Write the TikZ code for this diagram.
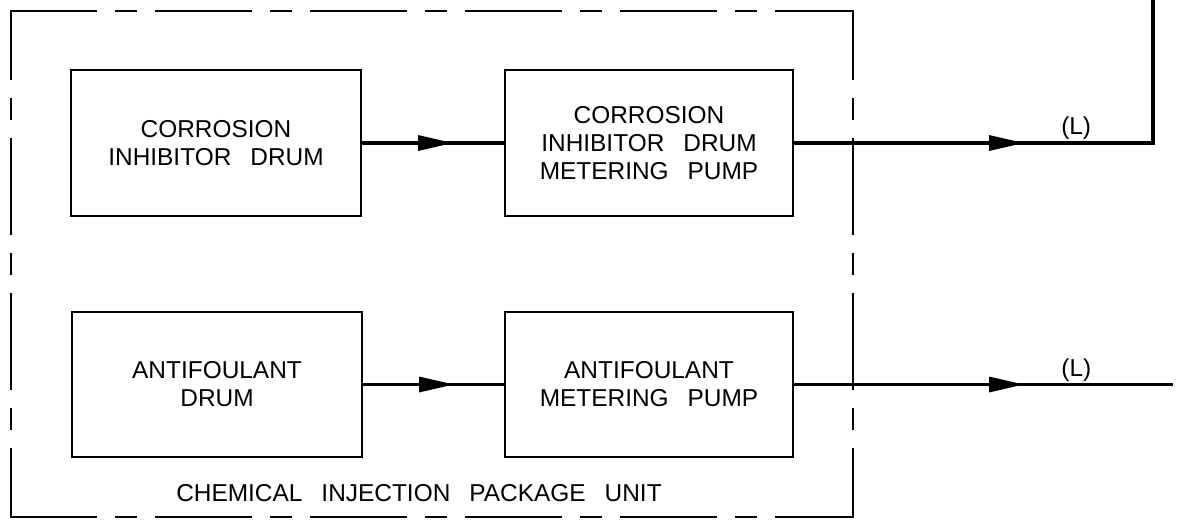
\documentclass[tikz,border=0pt]{standalone}
\usepackage{fontspec}
\setmainfont{Liberation Sans}[WordSpace=2.8]
\usetikzlibrary{positioning,calc,arrows.meta,decorations.markings}

\begin{document}
\begin{tikzpicture}

		\tikzstyle{unit} = [draw=black, rectangle, line width=1.2pt, minimum width=5.8cm, minimum height=2.92cm, align=center, inner sep=0pt, font=\fontsize{13.9}{15.9}\selectfont]
		\tikzstyle{flow} = [line width=1.8pt, draw=black]
		\tikzstyle{midarrow} = [decoration={markings, mark=at position #1 with {\arrow{Triangle[length=0.7cm, width=0.3cm]}}}, postaction={decorate}]
		\tikzstyle{pkgline} = [line width=1.4pt, line cap=rect, dash pattern=on 1.9cm off 0.4cm on 0.4cm off 0.4cm]
		\tikzstyle{lbl} = [above, inner sep=1pt, font=\fontsize{13.9}{15.9}\selectfont]

		\useasboundingbox (0,0) rectangle (23.68,10.38);

		\coordinate (pkgtl) at (0.22,10.16);
		\coordinate (pkgtr) at (17.06,10.16);
		\coordinate (pkgbl) at (0.22,0.04);
		\coordinate (pkgbr) at (17.06,0.04);

		\draw[pkgline, dash phase=0.2cm] (pkgtl) -- (pkgtr);
		\draw[pkgline, dash phase=0.2cm] (pkgbl) -- (pkgbr);
		\draw[pkgline, dash phase=0.54cm] (pkgtl) -- (pkgbl);
		\draw[pkgline, dash phase=0.54cm] (pkgtr) -- (pkgbr);

		\node[unit] (cidrum) at (4.32,7.52) {CORROSION\\INHIBITOR DRUM};
		\node[unit, minimum width=5.76cm] (cipump) at (12.98,7.52) {CORROSION\\INHIBITOR DRUM\\METERING PUMP};

		\node[unit, minimum height=2.9cm] (afdrum) at (4.34,2.69) {ANTIFOULANT\\DRUM};
		\node[unit, minimum width=5.76cm, minimum height=2.9cm] (afpump) at (12.98,2.69) {ANTIFOULANT\\METERING PUMP};

		\node[anchor=base, font=\fontsize{13.9}{15.9}\selectfont] (pkglabel) at (8.38,0.36) {CHEMICAL INJECTION PACKAGE UNIT};

		\coordinate (ciout) at (23.06,10.38);
		\coordinate (afout) at (23.46,2.69);

		\draw[flow, midarrow=1.82cm] (cidrum.east) -- (cipump.west);
		\draw[flow, midarrow=1.82cm] (afdrum.east) -- (afpump.west);

		\draw[flow, midarrow=4.6cm] (cipump.east) -| node[lbl, pos=0.393] {(L)} (ciout);
		\draw[flow, midarrow=4.6cm] (afpump.east) -- node[lbl, pos=0.745] {(L)} (afout);

	\end{tikzpicture}
\end{document}
